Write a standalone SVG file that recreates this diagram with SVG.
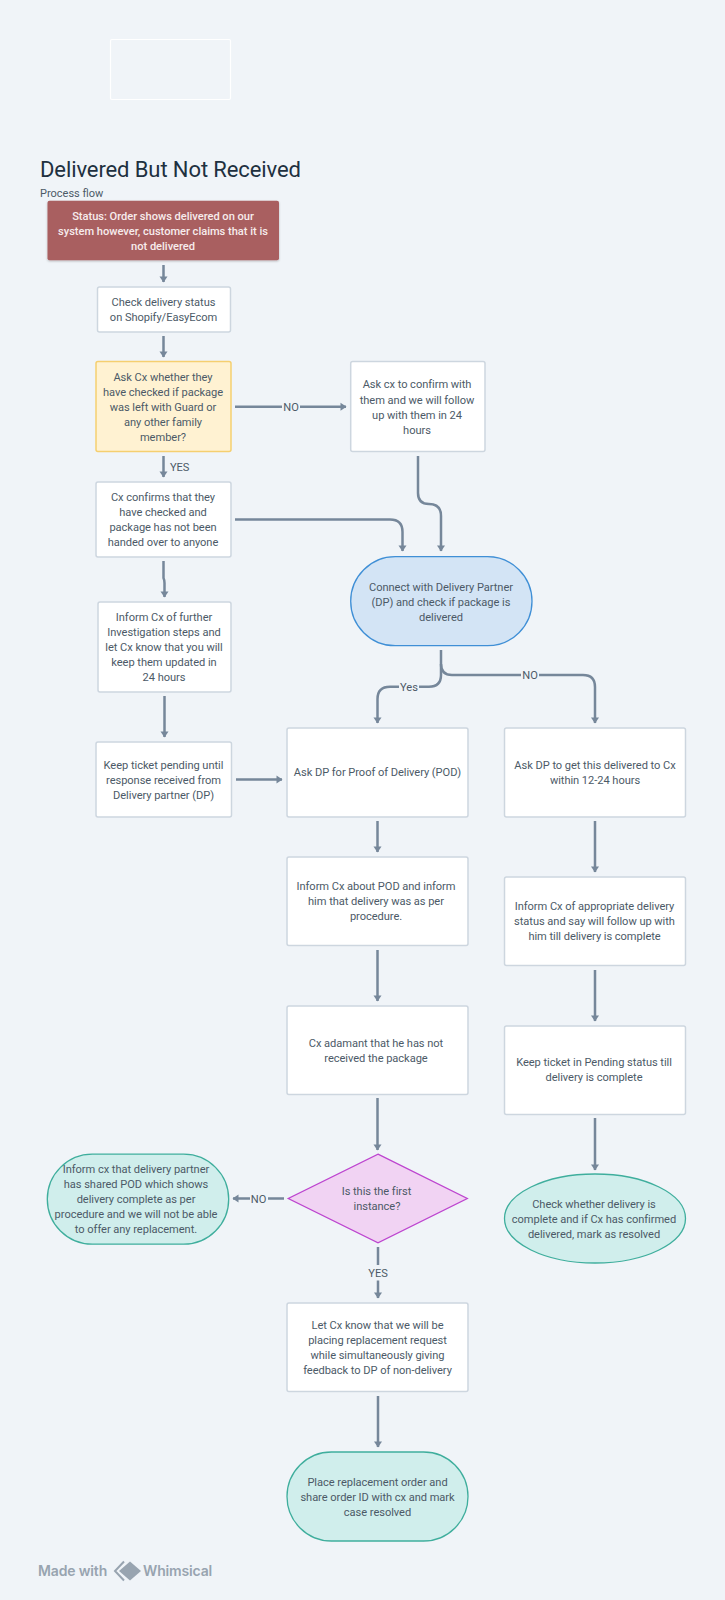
<svg xmlns="http://www.w3.org/2000/svg" width="725" height="1600" viewBox="0 0 725 1600">
<style>
text{font-family:"Roboto","Liberation Sans",sans-serif;font-size:11.100px;fill:#4c5a67;text-anchor:middle;letter-spacing:-.05px}
.box{fill:#fff;stroke:#cdd6df;stroke-width:1.5}
.term{fill:#d0eeec;stroke:#3fae9d;stroke-width:1.3}
.ln{fill:none;stroke:#76879a;stroke-width:2.5;marker-end:url(#a)}
.st{fill:#f7ecec;font-weight:500;letter-spacing:-.02px}
.wm{font-family:"Inter","Liberation Sans",sans-serif;font-weight:600;font-size:14px;fill:#98a4b0;text-anchor:start;letter-spacing:-.15px}
</style>
<defs>
<marker id="a" markerUnits="userSpaceOnUse" markerWidth="10" markerHeight="10" refX="7" refY="5" orient="auto"><path d="M1.500 1 L7.500 5 L1.500 9 Z" fill="#76879a"/></marker>
<filter id="s" x="-5%" y="-10%" width="110%" height="125%"><feDropShadow dx="0" dy="1" stdDeviation="1.200" flood-color="#000" flood-opacity=".25"/></filter>
</defs>
<rect width="725" height="1600" fill="#f0f4f8"/>
<rect x="110.500" y="39.500" width="120" height="60" rx="1.500" fill="none" stroke="#fff" stroke-width="1.200"/>
<text x="40" y="177.300" style="font-size:22px;text-anchor:start;fill:#20303f;letter-spacing:-.1px">Delivered But Not Received</text>
<text x="40" y="197" style="text-anchor:start;font-size:11px;letter-spacing:0">Process flow</text>

<g id="connectors">
<path class="ln" d="M163.500 265V282"/>
<path class="ln" d="M163.500 336V357"/>
<path class="ln" d="M235 406.700H346"/>
<path class="ln" d="M163.500 456V477"/>
<path class="ln" d="M163.500 561V578Q164.500 580 164.500 583V597"/>
<path class="ln" d="M164.500 696V737"/>
<path class="ln" d="M236 779.500H282"/>
<path class="ln" d="M418 456V493Q418 504 429 504Q441 504 441 516V551"/>
<path class="ln" d="M235 519.500H390Q402.500 519.500 402.500 532V551"/>
<path class="ln" d="M441 650V675Q441 686.700 429 686.700H390Q377.500 686.700 377.500 699V723"/>
<path class="ln" d="M441 664Q441 675 452 675H583Q595 675 595 687V723"/>
<path class="ln" d="M377.500 821V852"/>
<path class="ln" d="M377.500 950V1001"/>
<path class="ln" d="M377.500 1098V1150"/>
<path class="ln" d="M595 821V872"/>
<path class="ln" d="M595 970V1021"/>
<path class="ln" d="M595 1118V1170"/>
<path class="ln" d="M284 1198.500H233"/>
<path class="ln" d="M378 1247V1298"/>
<path class="ln" d="M378 1396V1447"/>
</g>
<g id="connector-labels">
<rect x="282" y="400" width="18" height="14" fill="#f0f4f8"/><text x="291" y="411">NO</text>
<text x="170" y="471" style="text-anchor:start">YES</text>
<rect x="399" y="680" width="20" height="14" fill="#f0f4f8"/><text x="409" y="691">Yes</text>
<rect x="521" y="668" width="18" height="14" fill="#f0f4f8"/><text x="530" y="679">NO</text>
<rect x="250" y="1192" width="18" height="14" fill="#f0f4f8"/><text x="258.500" y="1202.500">NO</text>
<rect x="366" y="1265" width="24" height="15.500" fill="#f0f4f8"/><text x="378" y="1277">YES</text>
</g>

<g id="n-status"><rect x="47.500" y="200.800" width="231.500" height="59.500" rx="2" fill="#a95f60" filter="url(#s)"/>
<text class="st" x="163" y="220">Status: Order shows delivered on our</text><text class="st" x="163" y="235">system however, customer claims that it is</text><text class="st" x="163" y="250">not delivered</text></g>
<g id="n-check"><rect class="box" x="97.500" y="287" width="133" height="45" rx="2"/>
<text x="163.500" y="306">Check delivery status</text><text x="163.500" y="321">on Shopify/EasyEcom</text></g>
<g id="n-ask"><rect x="96" y="361.500" width="135" height="90" rx="2" fill="#fff2d2" stroke="#f5cf70" stroke-width="1.500"/>
<text x="163" y="380.700">Ask Cx whether they</text><text x="163" y="396">have checked if package</text><text x="163" y="411">was left with Guard or</text><text x="163" y="426">any other family</text><text x="163" y="441">member?</text></g>
<g id="n-confirm"><rect class="box" x="350.700" y="361.500" width="134.300" height="90" rx="2"/>
<text x="417" y="388">Ask cx to confirm with</text><text x="417" y="403.500">them and we will follow</text><text x="417" y="418.500">up with them in 24</text><text x="417" y="433.500">hours</text></g>
<g id="n-checked"><rect class="box" x="96" y="482" width="135" height="75" rx="2"/>
<text x="163" y="501">Cx confirms that they</text><text x="163" y="516">have checked and</text><text x="163" y="531">package has not been</text><text x="163" y="546">handed over to anyone</text></g>
<g id="n-inform"><rect class="box" x="98" y="602" width="133" height="90" rx="2"/>
<text x="164" y="621">Inform Cx of further</text><text x="164" y="636">Investigation steps and</text><text x="164" y="651">let Cx know that you will</text><text x="164" y="666">keep them updated in</text><text x="164" y="681">24 hours</text></g>
<g id="n-keep"><rect class="box" x="96" y="742" width="135.500" height="75" rx="2"/>
<text x="163.500" y="768.500">Keep ticket pending until</text><text x="163.500" y="783.500">response received from</text><text x="163.500" y="798.500">Delivery partner (DP)</text></g>
<g id="n-connect"><rect x="350.700" y="556.700" width="181.300" height="89" rx="44.500" fill="#d3e4f5" stroke="#3f8fd6" stroke-width="1.300"/>
<text x="441" y="591">Connect with Delivery Partner</text><text x="441" y="606">(DP) and check if package is</text><text x="441" y="621">delivered</text></g>
<g id="n-pod"><rect class="box" x="287" y="728" width="181" height="89" rx="2"/>
<text x="377.500" y="776">Ask DP for Proof of Delivery (POD)</text></g>
<g id="n-dp"><rect class="box" x="504.500" y="728" width="181" height="89" rx="2"/>
<text x="595" y="769">Ask DP to get this delivered to Cx</text><text x="595" y="784">within 12-24 hours</text></g>
<g id="n-informpod"><rect class="box" x="287" y="857" width="181" height="88.500" rx="2"/>
<text x="376" y="890">Inform Cx about POD and inform</text><text x="376" y="905">him that delivery was as per</text><text x="376" y="920">procedure.</text></g>
<g id="n-informstatus"><rect class="box" x="504.500" y="877" width="181" height="88.500" rx="2"/>
<text x="594.500" y="910">Inform Cx of appropriate delivery</text><text x="594.500" y="925">status and say will follow up with</text><text x="594.500" y="940">him till delivery is complete</text></g>
<g id="n-adamant"><rect class="box" x="287" y="1006" width="181" height="88.500" rx="2"/>
<text x="376" y="1046.500">Cx adamant that he has not</text><text x="376" y="1061.500">received the package</text></g>
<g id="n-pending"><rect class="box" x="504.500" y="1026" width="181" height="88.500" rx="2"/>
<text x="594" y="1066">Keep ticket in Pending status till</text><text x="594" y="1081">delivery is complete</text></g>
<g id="n-resolved"><ellipse class="term" cx="595" cy="1218.500" rx="90.500" ry="44.500"/>
<text x="594" y="1208">Check whether delivery is</text><text x="594" y="1223">complete and if Cx has confirmed</text><text x="594" y="1238">delivered, mark as resolved</text></g>
<g id="n-first"><path d="M378 1154.200L467.300 1198.500L378 1242.800L288.300 1198.500Z" fill="#f1d3f3" stroke="#bd45cf" stroke-width="1.300"/>
<text x="376.500" y="1195">Is this the first</text><text x="377" y="1210">instance?</text></g>
<g id="n-nopod"><rect class="term" x="47.300" y="1154.200" width="181.400" height="90" rx="45"/>
<text x="136" y="1173">Inform cx that delivery partner</text><text x="136" y="1188">has shared POD which shows</text><text x="136" y="1203">delivery complete as per</text><text x="136" y="1218">procedure and we will not be able</text><text x="136" y="1233">to offer any replacement.</text></g>
<g id="n-replace"><rect class="box" x="287" y="1303" width="181" height="88.500" rx="2"/>
<text x="377.500" y="1329">Let Cx know that we will be</text><text x="377.500" y="1344">placing replacement request</text><text x="377.500" y="1359">while simultaneously giving</text><text x="377.500" y="1374">feedback to DP of non-delivery</text></g>
<g id="n-place"><rect class="term" x="287" y="1452" width="181" height="89" rx="44.500"/>
<text x="377.500" y="1486">Place replacement order and</text><text x="377.500" y="1501">share order ID with cx and mark</text><text x="377.500" y="1516">case resolved</text></g>

<g id="watermark">
<text class="wm" x="38" y="1576">Made with</text>
<path d="M130 1561.500L141 1571L130 1580.500L119 1571Z" fill="#98a4b0"/>
<path d="M124 1561.500L115 1571L124 1580.500" fill="none" stroke="#98a4b0" stroke-width="2"/>
<text class="wm" x="143" y="1576">Whimsical</text>
</g>
</svg>
